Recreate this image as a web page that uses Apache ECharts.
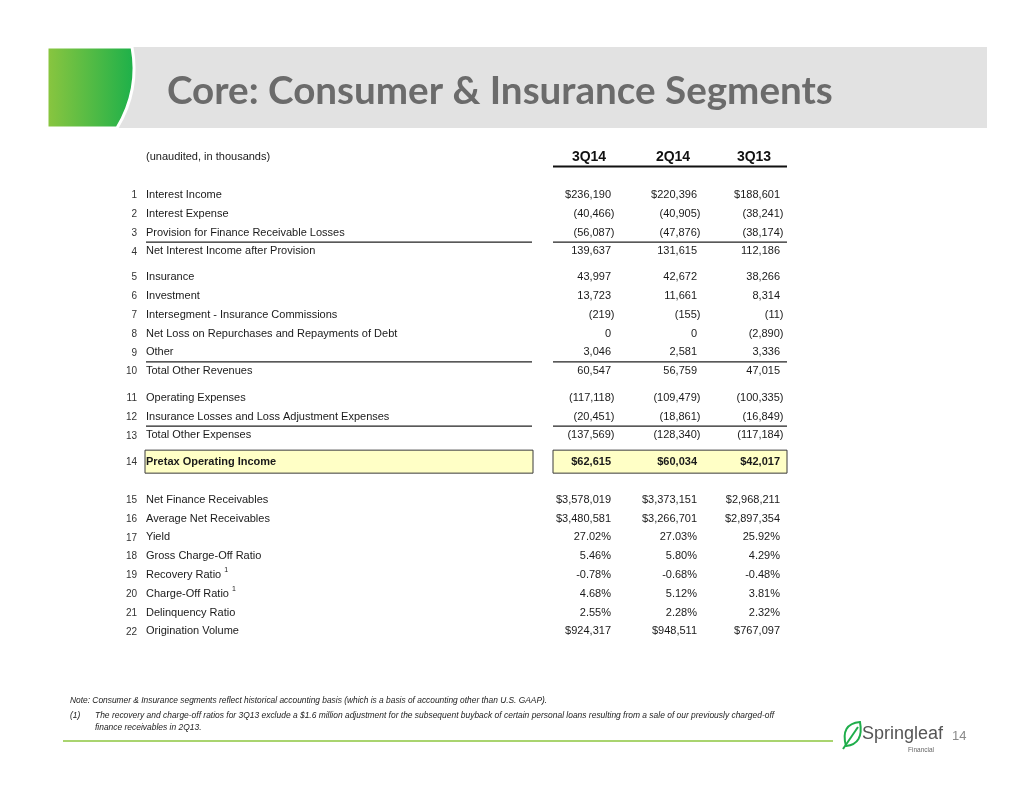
<!DOCTYPE html>
<html>
<head>
<meta charset="utf-8">
<script src="https://cdn.jsdelivr.net/npm/echarts@6/dist/echarts.min.js"></script>
<style>
  html, body { margin: 0; padding: 0; background: #fff; }
  #main { width: 1034px; height: 799px; }
</style>
</head>
<body>
<div id="main"></div>
<script>
// table content
var periods = ['3Q14', '2Q14', '3Q13'];
var labels = [
    'Interest Income',
    'Interest Expense',
    'Provision for Finance Receivable Losses',
    'Net Interest Income after Provision',
    'Insurance',
    'Investment',
    'Intersegment - Insurance Commissions',
    'Net Loss on Repurchases and Repayments of Debt',
    'Other',
    'Total Other Revenues',
    'Operating Expenses',
    'Insurance Losses and Loss Adjustment Expenses',
    'Total Other Expenses',
    'Pretax Operating Income',
    'Net Finance Receivables',
    'Average Net Receivables',
    'Yield',
    'Gross Charge-Off Ratio',
    'Recovery Ratio',
    'Charge-Off Ratio',
    'Delinquency Ratio',
    'Origination Volume'
];
var rowFormat = ['usd', 'num', 'num', 'num', 'num', 'num', 'num', 'num', 'num', 'num', 'num',
    'num', 'num', 'usd', 'usd', 'usd', 'pct', 'pct', 'pct', 'pct', 'pct', 'usd'];
var q3_14 = [236190, -40466, -56087, 139637, 43997, 13723, -219, 0, 3046, 60547, -117118,
    -20451, -137569, 62615, 3578019, 3480581, 27.02, 5.46, -0.78, 4.68, 2.55, 924317];
var q2_14 = [220396, -40905, -47876, 131615, 42672, 11661, -155, 0, 2581, 56759, -109479,
    -18861, -128340, 60034, 3373151, 3266701, 27.03, 5.80, -0.68, 5.12, 2.28, 948511];
var q3_13 = [188601, -38241, -38174, 112186, 38266, 8314, -11, -2890, 3336, 47015, -100335,
    -16849, -117184, 42017, 2968211, 2897354, 25.92, 4.29, -0.48, 3.81, 2.32, 767097];
var underlineRows = [3, 9, 12];
var highlightRow = 14;
var footnoteRows = [19, 20];

// layout: extra space (in rows) inserted after some rows
var gapAfter = { 4: 0.37, 10: 0.42, 13: 0.42, 14: 1.0 };
var colRight = [611, 697, 780];
var FONT = 'Liberation Sans';

function slotOf(rowNo) {
    var s = rowNo - 1;
    for (var k in gapAfter) if (rowNo > +k) s += gapAfter[k];
    return s;
}

function fmt(v, kind) {
    if (kind === 'pct') return v.toFixed(2) + '%';
    var s = Math.abs(v).toLocaleString('en-US');
    if (kind === 'usd') return (v < 0 ? '-' : '') + '$' + s;
    return v < 0 ? '(' + s + ')' : s;
}

var cols = [q3_14, q2_14, q3_13];
var rows = labels.map(function (l, i) { return [i + 1, slotOf(i + 1)]; });

var chart = echarts.init(document.getElementById('main'), null, { renderer: 'canvas' });

function renderRow(params, api) {
    var i = params.dataIndex;
    var rowNo = i + 1;
    var p = api.coord([0, api.value(1)]);
    var y = p[1];
    var bold = rowNo === highlightRow;
    var children = [];

    if (rowNo === highlightRow) {
        children.push({ type: 'rect', shape: { x: 145, y: y - 12, width: 388, height: 23 },
            style: { fill: '#ffffc6', stroke: '#3a3a3a', lineWidth: 1 } });
        children.push({ type: 'rect', shape: { x: 553, y: y - 12, width: 234, height: 23 },
            style: { fill: '#ffffc6', stroke: '#3a3a3a', lineWidth: 1 } });
    }
    if (underlineRows.indexOf(rowNo) >= 0) {
        children.push({ type: 'line', shape: { x1: 146, y1: y + 9.5, x2: 532, y2: y + 9.5 },
            style: { stroke: '#222', lineWidth: 1.2 } });
        children.push({ type: 'line', shape: { x1: 553, y1: y + 9.5, x2: 787, y2: y + 9.5 },
            style: { stroke: '#222', lineWidth: 1.2 } });
    }
    children.push({ type: 'text', x: 137, y: y + 0.5,
        style: { text: String(rowNo), fill: '#333', font: '10px ' + FONT, align: 'right', verticalAlign: 'middle' } });

    var isFn = footnoteRows.indexOf(rowNo) >= 0;
    children.push({ type: 'text', x: 146, y: y,
        style: {
            text: isFn ? '{a|' + labels[i] + ' }{s|1}' : labels[i],
            fill: '#1a1a1a',
            font: (bold ? 'bold ' : '') + '11px ' + FONT,
            align: 'left', verticalAlign: 'middle',
            rich: { a: { font: '11px ' + FONT, fill: '#1a1a1a' },
                    s: { font: '7px ' + FONT, fill: '#1a1a1a', padding: [0, 0, 9, 0] } }
        } });

    cols.forEach(function (arr, c) {
        var t = fmt(arr[i], rowFormat[i]);
        var x = colRight[c] + (t.charAt(t.length - 1) === ')' ? 3.5 : 0);
        children.push({ type: 'text', x: x, y: y,
            style: { text: t, fill: '#1a1a1a', font: (bold ? 'bold ' : '') + '11px ' + FONT,
                align: 'right', verticalAlign: 'middle' } });
    });
    return { type: 'group', children: children };
}

// banner swoosh and logo leaf (paths only work inside custom series)
function renderDeco() {
    return { type: 'group', children: [
        { type: 'path', shape: { pathData: 'M47 47 L132 47 Q140 90 117 128 L47 128 Z' },
          style: { fill: new echarts.graphic.LinearGradient(0, 0, 1, 0, [
              { offset: 0, color: '#8cc63f' }, { offset: 1, color: '#1bb04a' }]),
              stroke: '#fff', lineWidth: 3 } },
        { type: 'rect', shape: { x: 44, y: 44, width: 3.5, height: 88 }, style: { fill: '#fff' } },
        { type: 'path', shape: { pathData: 'M846 746 Q840 724 860 722 Q864 744 846 746 Z' },
          style: { fill: 'none', stroke: '#1fae4b', lineWidth: 2 } },
        { type: 'line', shape: { x1: 843, y1: 749, x2: 858, y2: 727 }, style: { stroke: '#1fae4b', lineWidth: 2 } }
    ] };
}

var option = {
    backgroundColor: '#fff',
    animation: false,
    grid: { left: 0, width: 1034, top: 195 - 3 * 18.8, height: 28 * 18.8 },
    xAxis: { type: 'value', min: 0, max: 1034, show: false },
    yAxis: { type: 'value', min: -3, max: 25, inverse: true, show: false },
    series: [{
        type: 'custom',
        clip: false,
        renderItem: renderRow,
        data: rows,
        encode: { x: 0, y: 1 }
    }, {
        type: 'custom',
        clip: false,
        z: 5,
        renderItem: renderDeco,
        data: [[0, 0]]
    }],
    graphic: [
        // title banner
        { type: 'rect', shape: { x: 47, y: 47, width: 940, height: 81 }, style: { fill: '#e2e2e2' }, z: 0 },
        { type: 'text', x: 167, y: 92, z: 3,
          style: { text: 'Core: Consumer & Insurance Segments', fill: '#6b6b6b',
              font: 'bold 38.6px Lato', verticalAlign: 'middle' } },

        // column header
        { type: 'text', x: 146, y: 157,
          style: { text: '(unaudited, in thousands)', fill: '#1a1a1a', font: '11px ' + FONT, verticalAlign: 'middle' } },
        { type: 'text', x: 589, y: 157,
          style: { text: periods[0], fill: '#111', font: 'bold 14px ' + FONT, align: 'center', verticalAlign: 'middle' } },
        { type: 'text', x: 673, y: 157,
          style: { text: periods[1], fill: '#111', font: 'bold 14px ' + FONT, align: 'center', verticalAlign: 'middle' } },
        { type: 'text', x: 754, y: 157,
          style: { text: periods[2], fill: '#111', font: 'bold 14px ' + FONT, align: 'center', verticalAlign: 'middle' } },
        { type: 'line', shape: { x1: 553, y1: 166.5, x2: 787, y2: 166.5 }, style: { stroke: '#111', lineWidth: 2 } },

        // notes
        { type: 'text', x: 70, y: 701,
          style: { text: 'Note: Consumer & Insurance segments reflect historical accounting basis (which is a basis of accounting other than U.S. GAAP).',
              fill: '#222', font: 'italic 8.4px ' + FONT, verticalAlign: 'middle' } },
        { type: 'text', x: 70, y: 716,
          style: { text: '(1)', fill: '#222', font: 'italic 8.4px ' + FONT, verticalAlign: 'middle' } },
        { type: 'text', x: 95, y: 716,
          style: { text: 'The recovery and charge-off ratios for 3Q13 exclude a $1.6 million adjustment for the subsequent buyback of certain personal loans resulting from a sale of our previously charged-off',
              fill: '#222', font: 'italic 8.45px ' + FONT, verticalAlign: 'middle' } },
        { type: 'text', x: 95, y: 728,
          style: { text: 'finance receivables in 2Q13.', fill: '#222', font: 'italic 8.45px ' + FONT, verticalAlign: 'middle' } },
        { type: 'line', shape: { x1: 63, y1: 741, x2: 833, y2: 741 }, style: { stroke: '#8cc63f', lineWidth: 1.5 } },

        // logo text
        { type: 'text', x: 862, y: 734,
          style: { text: 'Springleaf', fill: '#555', font: '18px ' + FONT, verticalAlign: 'middle' } },
        { type: 'text', x: 921, y: 750,
          style: { text: 'Financial', fill: '#666', font: '6.5px ' + FONT, align: 'center', verticalAlign: 'middle' } },
        { type: 'text', x: 952, y: 736,
          style: { text: '14', fill: '#8a8a8a', font: '13px ' + FONT, verticalAlign: 'middle' } }
    ]
};
chart.setOption(option);
</script>
</body>
</html>
